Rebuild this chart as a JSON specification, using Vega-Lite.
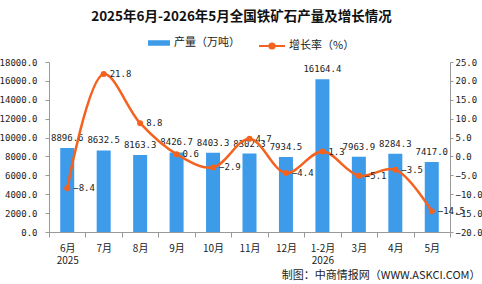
{
  "$schema": "https://vega.github.io/schema/vega-lite/v6.json",
  "width": 401,
  "height": 170,
  "autosize": {"type": "none"},
  "padding": {"left": 49, "top": 62, "right": 32, "bottom": 52},
  "background": "white",
  "title": {
    "text": "2025年6月-2026年5月全国铁矿石产量及增长情况",
    "font": "Noto Sans CJK SC",
    "fontSize": 13.5,
    "fontWeight": "bold",
    "color": "#111111",
    "anchor": "middle",
    "offset": 9,
    "dx": -8
  },
  "data": {
    "values": [
      {"month": "6月", "output": 8896.6, "growth": -8.4},
      {"month": "7月", "output": 8632.5, "growth": 21.8},
      {"month": "8月", "output": 8163.3, "growth": 8.8},
      {"month": "9月", "output": 8426.7, "growth": 0.6},
      {"month": "10月", "output": 8403.3, "growth": -2.9},
      {"month": "11月", "output": 8302.3, "growth": 4.7},
      {"month": "12月", "output": 7934.5, "growth": -4.4},
      {"month": "1-2月", "output": 16164.4, "growth": 1.3},
      {"month": "3月", "output": 7963.9, "growth": -5.1},
      {"month": "4月", "output": 8284.3, "growth": -3.5},
      {"month": "5月", "output": 7417.0, "growth": -14.5}
    ]
  },
  "encoding": {
    "x": {
      "field": "month",
      "type": "nominal",
      "sort": null,
      "scale": {"paddingInner": 0, "paddingOuter": 0},
      "axis": {
        "title": "制图：中商情报网（WWW.ASKCI.COM）",
        "titleFont": "Noto Sans CJK SC",
        "titleFontSize": 11,
        "titleFontWeight": "normal",
        "titleColor": "#222222",
        "titleAnchor": "end",
        "titleAlign": "right",
        "titleBaseline": "middle",
        "titleX": 431,
        "titleY": 43,
        "labelAngle": 0,
        "labelFont": "Noto Sans CJK SC",
        "labelFontSize": 10,
        "labelColor": "#222222",
        "labelPadding": 6,
        "labelLineHeight": 12,
        "labelBaseline": "top",
        "labelExpr": "datum.value == '6月' ? ['6月', '2025'] : datum.value == '1-2月' ? ['1-2月', '2026'] : datum.value",
        "tickBand": "extent",
        "tickSize": 5,
        "tickColor": "#999999",
        "domainColor": "#999999",
        "grid": false
      }
    }
  },
  "layer": [
    {
      "encoding": {
        "y": {
          "field": "output",
          "type": "quantitative",
          "scale": {"domain": [0, 18000], "nice": false},
          "axis": {
            "title": null,
            "orient": "left",
            "values": [0, 2000, 4000, 6000, 8000, 10000, 12000, 14000, 16000, 18000],
            "format": ".1f",
            "labelFont": "DejaVu Sans Mono",
            "labelFontSize": 9,
            "labelColor": "#222222",
            "labelPadding": 8,
            "tickSize": 4,
            "tickColor": "#999999",
            "domainColor": "#999999",
            "grid": false
          }
        }
      },
      "layer": [
        {
          "mark": {"type": "bar", "size": 14},
          "encoding": {
            "color": {
              "datum": "产量（万吨）",
              "scale": {"range": ["#3d9be9"]},
              "legend": {
                "orient": "none",
                "legendX": 99,
                "legendY": -30,
                "title": null,
                "padding": 0,
                "symbolType": "M-1,-0.25H1V0.25H-1Z",
                "symbolSize": 484,
                "symbolStrokeWidth": 0,
                "labelFont": "Noto Sans CJK SC",
                "labelFontSize": 11,
                "labelColor": "#222222",
                "labelOffset": 4
              }
            }
          }
        },
        {
          "mark": {
            "type": "text",
            "baseline": "bottom",
            "dy": -5,
            "font": "DejaVu Sans Mono",
            "fontSize": 9,
            "color": "#222222"
          },
          "encoding": {
            "text": {"field": "output", "type": "quantitative", "format": ".1f"}
          }
        }
      ]
    },
    {
      "encoding": {
        "y": {
          "field": "growth",
          "type": "quantitative",
          "scale": {"domain": [-20, 25], "nice": false},
          "axis": {
            "title": null,
            "orient": "right",
            "values": [-20, -15, -10, -5, 0, 5, 10, 15, 20, 25],
            "format": ".1f",
            "labelFont": "DejaVu Sans Mono",
            "labelFontSize": 9,
            "labelColor": "#222222",
            "labelPadding": 2,
            "tickSize": 3,
            "tickColor": "#999999",
            "domainColor": "#999999",
            "grid": false
          }
        }
      },
      "layer": [
        {
          "mark": {"type": "line", "interpolate": "catmull-rom", "strokeWidth": 2.5},
          "encoding": {
            "stroke": {
              "datum": "增长率（%）",
              "scale": {"range": ["#f4621f"]},
              "legend": {
                "orient": "none",
                "legendX": 209,
                "legendY": -30,
                "title": null,
                "padding": 0,
                "symbolType": "M-1,0H1M-0.2,0A0.2,0.2,0,1,1,0.2,0A0.2,0.2,0,1,1,-0.2,0",
                "symbolSize": 676,
                "symbolStrokeWidth": 2,
                "symbolFillColor": "#f4621f",
                "labelFont": "Noto Sans CJK SC",
                "labelFontSize": 11,
                "labelColor": "#222222",
                "labelOffset": 3
              }
            }
          }
        },
        {
          "mark": {"type": "point", "filled": true, "size": 36, "color": "#f4621f", "opacity": 1},
          "encoding": {}
        },
        {
          "mark": {
            "type": "text",
            "align": "left",
            "baseline": "middle",
            "dx": 6,
            "font": "DejaVu Sans Mono",
            "fontSize": 9,
            "color": "#222222"
          },
          "encoding": {
            "text": {"field": "growth", "type": "quantitative", "format": ".1f"}
          }
        }
      ]
    }
  ],
  "resolve": {"scale": {"y": "independent"}},
  "config": {"view": {"stroke": null}}
}
